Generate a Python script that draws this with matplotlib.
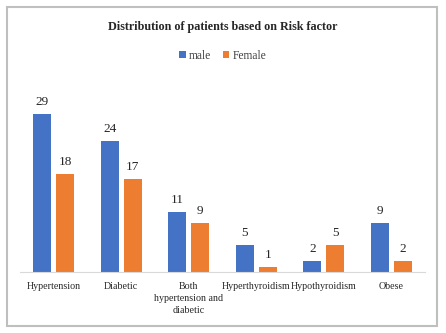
import numpy as np
import matplotlib.pyplot as plt
from matplotlib.patches import Rectangle

categories = ['Hypertension', 'Diabetic', 'Both\nhypertension and\ndiabetic',
              'Hyperthyroidism', 'Hypothyroidism', 'Obese']
male = [29, 24, 11, 5, 2, 9]
female = [18, 17, 9, 1, 5, 2]

plt.rcParams['font.family'] = ['Liberation Serif', 'DejaVu Serif']

fig = plt.figure(figsize=(4.46, 3.33), dpi=100)
ax = fig.add_axes([20 / 446, 1 - 272 / 333, 405 / 446, 190.7 / 333])

x = np.arange(len(categories))
w = 0.267
off = 0.17
b1 = ax.bar(x - off, male, w, color='#4472C4', label='male')
b2 = ax.bar(x + off, female, w, color='#ED7D31', label='Female')

for bars, vals in ((b1, male), (b2, female)):
    for r, v in zip(bars, vals):
        ax.text(r.get_x() + r.get_width() / 2, v + 1.1, str(v),
                ha='center', va='bottom', fontsize=9.5, color='#262626')

ax.set_xlim(-0.5, 5.5)
ax.set_ylim(0, 35)
ax.set_yticks([])
ax.set_xticks(x)
ax.set_xticklabels(categories, fontsize=7.2, color='#262626', linespacing=1.45)
ax.tick_params(axis='x', length=0, pad=7)
for s in ['top', 'right', 'left']:
    ax.spines[s].set_visible(False)
ax.spines['bottom'].set_color('#d9d9d9')

fig.text(0.5, 1 - 27 / 333, 'Distribution of patients based on Risk factor',
         ha='center', va='center', fontsize=8.7, fontweight='bold', color='#262626')
fig.legend(loc='center', bbox_to_anchor=(0.5, 1 - 56 / 333), ncol=2, frameon=False,
           fontsize=8.3, handlelength=0.55, handleheight=0.55, handletextpad=0.3,
           columnspacing=1.0, labelcolor='#404040')

fig.patches.append(Rectangle((7 / 446, 7 / 333), 430 / 446, 319 / 333,
                             transform=fig.transFigure, fill=False,
                             edgecolor='#bfbfbf', linewidth=1.5))

fig.savefig('out.png', dpi=100)
